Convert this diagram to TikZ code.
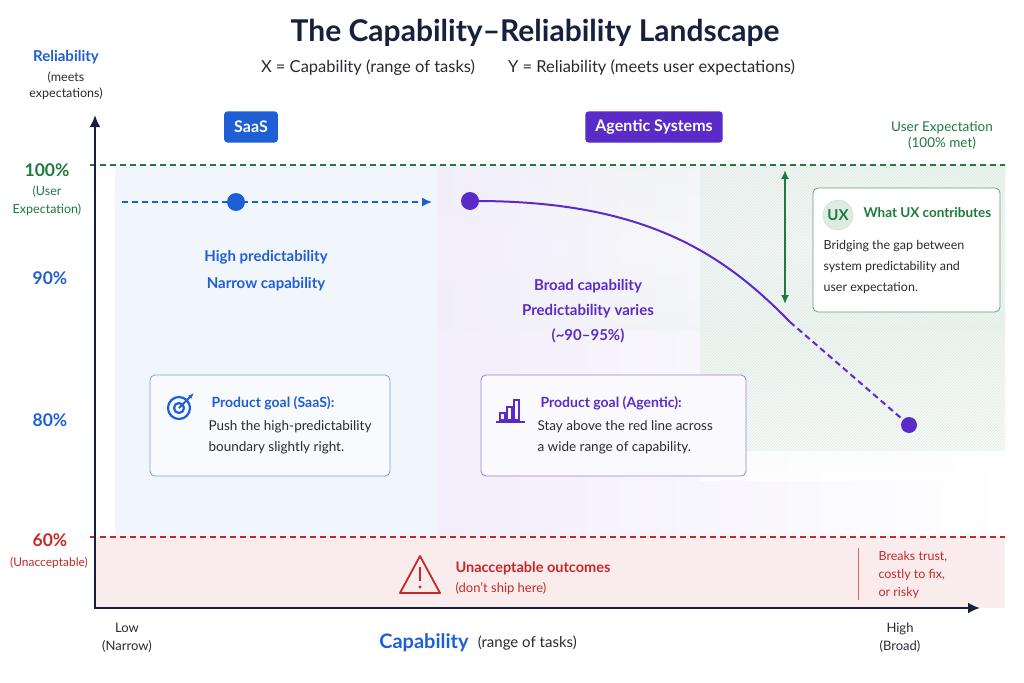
\documentclass[tikz,border=0pt]{standalone}
\usepackage{fontspec}
\setmainfont{Lato}
\usetikzlibrary{positioning,arrows.meta,patterns,fadings}
\definecolor{cblue}{HTML}{1F5FD6}
\definecolor{cpurple}{HTML}{5B2BC9}
\definecolor{cgreen}{HTML}{1E7A3E}
\definecolor{cred}{HTML}{C62828}
\definecolor{cnavy}{HTML}{17203D}
\definecolor{ctext}{HTML}{2A2A35}
\tikzset{
  lbl/.style={font=\fontsize{13.5}{16}\selectfont, align=center},
  tick/.style={font=\bfseries\fontsize{17.5}{20}\selectfont},
  head/.style={font=\bfseries\fontsize{15.5}{18}\selectfont},
  body/.style={font=\fontsize{13.5}{21}\selectfont, text=ctext, align=left},
  goalbox/.style={draw, rounded corners=5pt, line width=0.8pt},
  tag/.style={rounded corners=3pt, text=white, font=\bfseries\fontsize{16}{18}\selectfont, minimum height=31pt, inner xsep=10pt},
  dot/.style={circle, inner sep=0pt, minimum size=18pt},
}
\begin{document}
\begin{tikzpicture}[x=1pt, y=-1pt]
  \useasboundingbox (0,0) rectangle (1024,682);
  \fill[white] (0,0) rectangle (1024,682);

  % regions
  \fill[cblue!6] (115,165) rectangle (437,537);
  \shade[left color=cpurple!8, right color=white] (437,165) rectangle (1005,537);
  \shade[top color=cgreen!9, bottom color=cgreen!9, middle color=cgreen!4, opacity=0.9, path fading=west] (437,165) rectangle (1005,330);
  \shade[top color=cgreen!7, bottom color=white, opacity=0.8] (700,330) rectangle (1005,480);
  \fill[pattern=north east lines, pattern color=cgreen!16] (700,165) rectangle (1005,450);
  \fill[cred!9] (95,537) rectangle (1005,608);

  % reference lines
  \draw[cgreen, line width=1.3pt, dash pattern=on 6pt off 4pt] (90,165) -- (1005,165);
  \draw[cred, line width=1.3pt, dash pattern=on 6pt off 4pt] (90,537) -- (1005,537);

  % axes
  \draw[cnavy, line width=2.5pt, -{Latex[length=12pt,width=11pt]}] (95,609) -- (95,115);
  \draw[cnavy, line width=2.5pt, -{Latex[length=12pt,width=11pt]}] (94,608) -- (980,608);

  % title
  \node[font=\bfseries\fontsize{30}{34}\selectfont, text=cnavy] (title) at (535,33) {The Capability–Reliability Landscape};
  \node[font=\fontsize{16.5}{19}\selectfont, text=ctext] (sub) at (528,68) {X = Capability (range of tasks)\qquad Y = Reliability (meets user expectations)};

  % y labels
  \node[font=\bfseries\fontsize{15}{17}\selectfont, text=cblue] (ylab) at (66,57) {Reliability};
  \node[lbl, font=\fontsize{12.5}{16}\selectfont, text=ctext] (ysub) at (66,86) {(meets\\expectations)};
  \node[tick, text=cgreen] (t100) at (47,170) {100\%};
  \node[lbl, font=\fontsize{12.5}{18}\selectfont, text=cgreen] (t100s) at (47,201) {(User\\Expectation)};
  \node[tick, text=cblue] (t90) at (50,278) {90\%};
  \node[tick, text=cblue] (t80) at (50,420) {80\%};
  \node[tick, text=cred] (t60) at (50,540) {60\%};
  \node[font=\fontsize{12}{14}\selectfont, text=cred] (t60s) at (49,563) {(Unacceptable)};

  % x labels
  \node[lbl, font=\fontsize{13}{18}\selectfont, text=ctext] (xlow) at (127,638) {Low\\(Narrow)};
  \node[lbl, font=\fontsize{13}{18}\selectfont, text=ctext] (xhigh) at (900,638) {High\\(Broad)};
  \node[font=\bfseries\fontsize{20}{22}\selectfont, text=cblue] (xlab) at (424,643) {Capability};
  \node[font=\fontsize{15}{17}\selectfont, text=ctext, right=2pt of xlab] (xsub) {(range of tasks)};

  % tags
  \node[tag, fill=cblue] (saas) at (251,127) {SaaS};
  \node[tag, fill=cpurple] (agentic) at (654,127) {Agentic Systems};
  \node[lbl, text=cgreen] (uexp) at (942,136) {User Expectation\\(100\% met)};

  % SaaS boundary
  \node[dot, fill=cblue] (sdot) at (236,202) {};
  \coordinate (sstart) at (122,202);
  \coordinate (send) at (432,202);
  \draw[cblue, line width=1.5pt, dash pattern=on 6pt off 4pt, -{Latex[length=10pt,width=9pt]}] (sstart) -- (send);
  \node[head, text=cblue, align=center, font=\bfseries\fontsize{15}{27}\selectfont] (saastxt) at (266,271) {High predictability\\Narrow capability};

  % agentic curve
  \node[dot, fill=cpurple] (adot) at (470,201) {};
  \node[dot, fill=cpurple, minimum size=16pt] (edot) at (909,425) {};
  \coordinate (knee) at (790,322);
  \draw[cpurple, line width=2pt] (adot.center) .. controls (640,200) and (720,250) .. (knee);
  \draw[cpurple, line width=2pt, dash pattern=on 6pt off 4pt] (knee) -- (edot);
  \node[head, text=cpurple, align=center, font=\bfseries\fontsize{15}{25}\selectfont] (agtxt) at (588,311) {Broad capability\\Predictability varies\\(\textasciitilde90–95\%)};

  % UX gap
  \coordinate (gtop) at (785,170);
  \coordinate (gbot) at (785,304);
  \draw[cgreen, line width=1.8pt, {Latex[length=9pt,width=8pt]}-{Latex[length=9pt,width=8pt]}] (gtop) -- (gbot);
  \draw[goalbox, draw=cgreen!70, fill=white] (813,188) rectangle (1000,312);
  \node[circle, fill=cgreen!15, draw=cgreen!25, minimum size=30pt, inner sep=0pt, text=cgreen, font=\bfseries\fontsize{15}{17}\selectfont] (ux) at (838,215) {UX};
  \node[head, text=cgreen, anchor=west, font=\bfseries\fontsize{13.5}{16}\selectfont] (uxh) at (860,213) {What UX contributes};
  \node[body, anchor=north west, font=\fontsize{12.5}{21}\selectfont] (uxb) at (820,237) {Bridging the gap between\\system predictability and\\user expectation.};

  % product goal boxes
  \draw[goalbox, draw=cblue!60, fill=cblue!3] (150,375) rectangle (390,476);
  \draw[cblue, line width=2.2pt] (179,408) circle[radius=11pt];
  \draw[cblue, line width=2.2pt] (179,408) circle[radius=5pt];
  \draw[cblue, line width=2pt, -{Latex[length=6pt]}] (179,408) -- (194,393);
  \node[head, text=cblue, anchor=west, font=\bfseries\fontsize{14}{16}\selectfont] (sgoal) at (208,403) {Product goal (SaaS):};
  \node[body, anchor=north west] (sgoalb) at (205,417) {Push the high-predictability\\boundary slightly right.};

  \draw[goalbox, draw=cpurple!60, fill=cpurple!3] (481,375) rectangle (746,476);
  \foreach \bx/\bh in {0/7,7/13,14/20}
    \draw[cpurple, line width=1.4pt] (500+\bx,420) rectangle (505+\bx,420-\bh);
  \draw[cpurple, line width=1.4pt] (496,422) -- (525,422);
  \node[head, text=cpurple, anchor=west, font=\bfseries\fontsize{14}{16}\selectfont] (agoal) at (537,403) {Product goal (Agentic):};
  \node[body, anchor=north west] (agoalb) at (534,417) {Stay above the red line across\\a wide range of capability.};

  % unacceptable zone
  \draw[cred, line width=1.8pt, line join=round] (420,556) -- (440,593) -- (400,593) -- cycle;
  \draw[cred, line width=2.2pt] (420,567) -- (420,581);
  \fill[cred] (420,587) circle[radius=1.6pt];
  \node[head, text=cred, anchor=west, font=\bfseries\fontsize{14.5}{17}\selectfont] (unacc) at (452,568) {Unacceptable outcomes};
  \node[body, text=cred, anchor=west, font=\fontsize{13}{15}\selectfont] (unaccs) at (452,589) {(don’t ship here)};
  \coordinate (rtop) at (858,548);
  \coordinate (rbot) at (858,600);
  \draw[cred!70, line width=0.8pt] (rtop) -- (rbot);
  \node[body, text=cred, anchor=west, font=\fontsize{12.5}{18}\selectfont] (risk) at (875,575) {Breaks trust,\\costly to fix,\\or risky};
\end{tikzpicture}
\end{document}
